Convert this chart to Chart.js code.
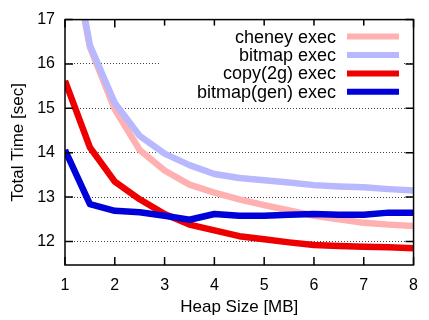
<!DOCTYPE html>
<html>
<head>
<meta charset="utf-8">
<script src="https://cdn.jsdelivr.net/npm/chart.js@4"></script>
<style>
html,body{margin:0;padding:0;background:#fff;}
#wrap{width:429px;height:320px;}
</style>
</head>
<body>
<div id="wrap"><canvas id="c" width="429" height="320"></canvas></div>
<script>
// ---- data ----
const heapSizes = [1, 1.5, 2, 2.5, 3, 3.5, 4, 4.5, 5, 5.5, 6, 6.5, 7, 7.5, 8];
const cheneyExec = [19.3, 16.38, 14.98, 14.06, 13.6, 13.28, 13.1, 12.95, 12.82, 12.7, 12.58, 12.5, 12.42, 12.38, 12.35];
const bitmapExec = [19.5, 16.42, 15.12, 14.38, 13.98, 13.72, 13.52, 13.43, 13.38, 13.33, 13.27, 13.24, 13.22, 13.18, 13.15];
const copy2gExec = [15.62, 14.12, 13.35, 12.95, 12.62, 12.38, 12.25, 12.12, 12.05, 11.98, 11.92, 11.9, 11.88, 11.87, 11.85];
const bitmapGenExec = [14.06, 12.84, 12.69, 12.66, 12.58, 12.49, 12.62, 12.58, 12.58, 12.6, 12.62, 12.6, 12.6, 12.65, 12.65];
const seriesLabels = ['cheney exec', 'bitmap exec', 'copy(2g) exec', 'bitmap(gen) exec'];
const xTicks = [1, 2, 3, 4, 5, 6, 7, 8];
const yTicks = [12, 13, 14, 15, 16, 17];
const xTitle = 'Heap Size [MB]';
const yTitle = 'Total Time [sec]';

const colors = ['#ffb0b0', '#b8b8ff', '#ee0000', '#0000d8'];
const seriesData = [cheneyExec, bitmapExec, copy2gExec, bitmapGenExec];
const FONT = "'Liberation Sans', Arial, Helvetica, sans-serif";

const datasets = seriesData.map((arr, i) => ({
  label: seriesLabels[i],
  data: heapSizes.map((x, j) => ({x: x, y: arr[j]})),
  borderColor: colors[i],
  backgroundColor: colors[i],
  borderWidth: 6.5,
  pointRadius: 0,
  tension: 0,
  clip: 0,
  order: 3 - i,
  borderJoinStyle: 'round'
}));

const framePlugin = {
  id: 'frame',
  afterDatasetsDraw(chart) {
    const ctx = chart.ctx, a = chart.chartArea;
    const xs = chart.scales.x, ys = chart.scales.y;
    ctx.save();
    ctx.strokeStyle = '#000';
    ctx.lineWidth = 1.5;
    ctx.strokeRect(a.left, a.top, a.right - a.left, a.bottom - a.top);
    const tl = 8;
    ctx.beginPath();
    xTicks.forEach(v => {
      const px = xs.getPixelForValue(v);
      ctx.moveTo(px, a.bottom); ctx.lineTo(px, a.bottom - tl);
      ctx.moveTo(px, a.top); ctx.lineTo(px, a.top + tl);
    });
    yTicks.forEach(v => {
      const py = ys.getPixelForValue(v);
      ctx.moveTo(a.left, py); ctx.lineTo(a.left + tl, py);
      ctx.moveTo(a.right, py); ctx.lineTo(a.right - tl, py);
    });
    ctx.stroke();
    ctx.restore();
  }
};

const legendPlugin = {
  id: 'keybox',
  afterDatasetsDraw(chart) {
    const ctx = chart.ctx, a = chart.chartArea;
    ctx.save();
    ctx.fillStyle = '#fff';
    ctx.fillRect(160, a.top + 6, a.right - 11 - 160, 82);
    ctx.font = '18px ' + FONT;
    ctx.textAlign = 'right';
    ctx.textBaseline = 'middle';
    const textRight = 336, lx0 = 347, lx1 = 399;
    chart.data.datasets.forEach((ds, i) => {
      const y = a.top + 17 + i * 18.4;
      ctx.fillStyle = '#000';
      ctx.fillText(ds.label, textRight, y + 1);
      ctx.strokeStyle = ds.borderColor;
      ctx.lineWidth = 6;
      ctx.beginPath();
      ctx.moveTo(lx0, y); ctx.lineTo(lx1, y);
      ctx.stroke();
    });
    ctx.restore();
  }
};

new Chart(document.getElementById('c'), {
  type: 'line',
  data: { datasets: datasets },
  options: {
    responsive: false,
    animation: false,
    events: [],
    layout: { padding: { left: 0, right: 8, top: 15, bottom: 0 } },
    plugins: { legend: { display: false }, tooltip: { enabled: false } },
    scales: {
      x: {
        type: 'linear',
        min: 1, max: 8,
        afterBuildTicks: s => { s.ticks = xTicks.map(v => ({value: v})); },
        afterFit: s => { s.height = 55; },
        grid: { display: false, drawTicks: false },
        border: { display: false },
        ticks: { color: '#000', padding: 11, font: { family: FONT, size: 16 }, maxRotation: 0 },
        title: { display: true, text: xTitle, color: '#000', font: { family: FONT, size: 17 }, padding: { top: 0, bottom: 2 } }
      },
      y: {
        type: 'linear',
        min: 11.47, max: 17,
        afterBuildTicks: s => { s.ticks = yTicks.map(v => ({value: v})); },
        afterFit: s => { s.width = 65; },
        grid: { display: true, drawTicks: false, color: '#444', lineWidth: 1 },
        border: { display: false, dash: [1, 2] },
        ticks: { color: '#000', padding: 10, font: { family: FONT, size: 16 } },
        title: { display: true, text: yTitle, color: '#000', font: { family: FONT, size: 17 }, padding: { top: 8, bottom: 0 } }
      }
    }
  },
  plugins: [framePlugin, legendPlugin]
});
</script>
</body>
</html>
